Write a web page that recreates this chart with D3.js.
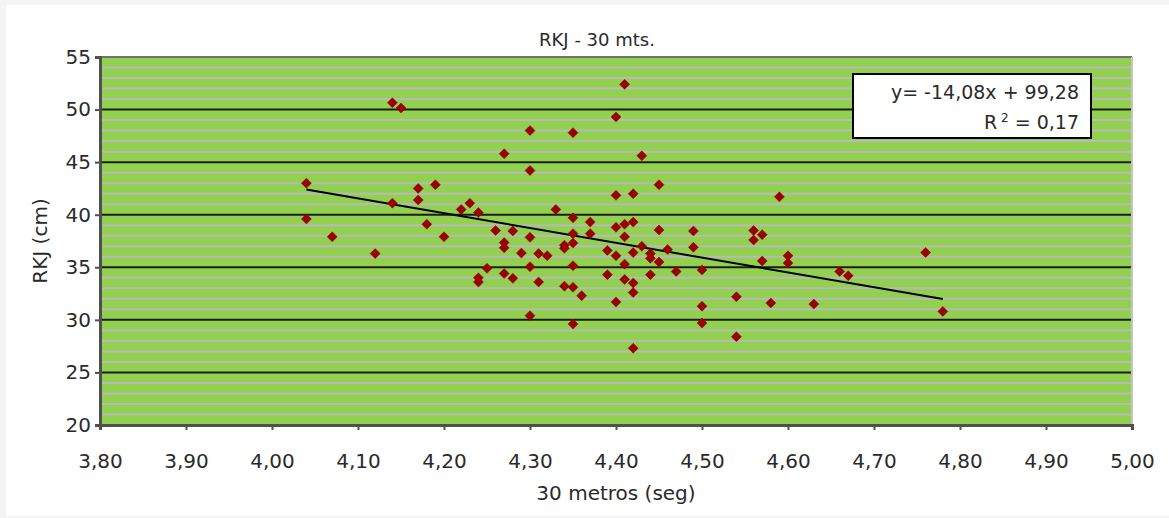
<!DOCTYPE html>
<html>
<head>
<meta charset="utf-8">
<script src="https://cdn.jsdelivr.net/npm/d3@7"></script>
<style>
    body { margin: 0; background: #f4f4f4; }
    svg { display: block; }
    text { font-family: "DejaVu Sans", Verdana, sans-serif; fill: #2a2a2a; }
</style>
</head>
<body>
<svg id="chart" width="1169" height="518"></svg>
<script>
// 30 m sprint time (s) and RKJ jump height (cm)
const timeSeg = [
    4.04, 4.04, 4.07, 4.12, 4.14, 4.14, 4.15, 4.17, 4.17, 4.18,
    4.19, 4.20, 4.22, 4.23, 4.24, 4.24, 4.24, 4.25, 4.26, 4.27,
    4.27, 4.27, 4.27, 4.28, 4.28, 4.29, 4.30, 4.30, 4.30, 4.30,
    4.30, 4.31, 4.31, 4.32, 4.33, 4.34, 4.34, 4.34, 4.35, 4.35,
    4.35, 4.35, 4.35, 4.35, 4.35, 4.36, 4.37, 4.37, 4.39, 4.39,
    4.40, 4.40, 4.40, 4.40, 4.40, 4.41, 4.41, 4.41, 4.41, 4.41,
    4.42, 4.42, 4.42, 4.42, 4.42, 4.42, 4.43, 4.43, 4.44, 4.44,
    4.44, 4.45, 4.45, 4.45, 4.46, 4.47, 4.49, 4.49, 4.50, 4.50,
    4.50, 4.54, 4.54, 4.56, 4.56, 4.57, 4.57, 4.58, 4.59, 4.60,
    4.60, 4.63, 4.66, 4.67, 4.76, 4.78
];
const rkjCm = [
    43.0, 39.6, 37.9, 36.3, 50.65, 41.1, 50.15, 42.5, 41.4, 39.1,
    42.85, 37.9, 40.5, 41.1, 40.2, 34.0, 33.6, 34.9, 38.5, 45.8,
    37.35, 36.85, 34.4, 38.45, 33.95, 36.35, 48.0, 44.2, 37.85, 35.05,
    30.4, 36.3, 33.6, 36.1, 40.5, 37.1, 36.8, 33.2, 47.8, 39.7,
    38.2, 37.3, 35.15, 33.1, 29.6, 32.3, 39.3, 38.2, 36.6, 34.3,
    49.3, 41.85, 38.8, 36.1, 31.7, 52.4, 39.1, 37.9, 35.3, 33.85,
    42.0, 39.3, 36.4, 33.5, 32.6, 27.3, 45.6, 37.0, 36.3, 35.85,
    34.3, 42.85, 38.55, 35.5, 36.7, 34.6, 38.45, 36.9, 34.75, 31.3,
    29.7, 32.2, 28.4, 38.5, 37.6, 38.1, 35.6, 31.6, 41.7, 36.1,
    35.4, 31.5, 34.6, 34.2, 36.4, 30.8
];

const xTicks = [3.8, 3.9, 4.0, 4.1, 4.2, 4.3, 4.4, 4.5, 4.6, 4.7, 4.8, 4.9, 5.0];
const yTicks = [20, 25, 30, 35, 40, 45, 50, 55];
const yMinorTicks = d3.range(21, 55).filter(v => v % 5 !== 0);

// linear trend shown in the box
const trendSlope = -14.08;
const trendIntercept = 99.28;
const trendRange = [4.04, 4.78];
const trendLabel = "y= -14,08x + 99,28";
const r2Label = "0,17";

const plot = { left: 100, right: 1132, top: 57, bottom: 425 };

const svg = d3.select("#chart");

// white panel
svg.append("rect")
    .attr("x", 6).attr("y", 5)
    .attr("width", 1169 - 6).attr("height", 511)
    .attr("fill", "#ffffff");

const x = d3.scaleLinear().domain([3.8, 5.0]).range([plot.left, plot.right]);
const y = d3.scaleLinear().domain([20, 55]).range([plot.bottom, plot.top]);

const locale = d3.formatLocale({ decimal: ",", thousands: ".", grouping: [3], currency: ["", ""] });
const fmt2 = locale.format(".2f");

// plot background
svg.append("rect")
    .attr("x", plot.left).attr("y", plot.top)
    .attr("width", plot.right - plot.left).attr("height", plot.bottom - plot.top)
    .attr("fill", "#92d050");

// minor gridlines
svg.append("g").selectAll("line")
    .data(yMinorTicks)
    .join("line")
    .attr("x1", plot.left).attr("x2", plot.right)
    .attr("y1", d => y(d)).attr("y2", d => y(d))
    .attr("stroke", "#b9b9b9")
    .attr("stroke-width", 2);

// major gridlines
svg.append("g").selectAll("line")
    .data(yTicks.filter(d => d > 20 && d < 55))
    .join("line")
    .attr("x1", plot.left).attr("x2", plot.right)
    .attr("y1", d => y(d)).attr("y2", d => y(d))
    .attr("stroke", "#1c1c1c")
    .attr("stroke-width", 2);

// frame: top and right borders
svg.append("line")
    .attr("x1", plot.left).attr("x2", plot.right)
    .attr("y1", plot.top).attr("y2", plot.top)
    .attr("stroke", "#707070").attr("stroke-width", 2);
svg.append("line")
    .attr("x1", plot.right).attr("x2", plot.right)
    .attr("y1", plot.top).attr("y2", plot.bottom)
    .attr("stroke", "#c4c4c4").attr("stroke-width", 2);

// axes
const xAxis = d3.axisBottom(x).tickValues(xTicks).tickFormat(fmt2).tickSize(5).tickPadding(24);
const yAxis = d3.axisLeft(y).tickValues(yTicks).tickSize(5).tickPadding(4);

const gx = svg.append("g")
    .attr("transform", `translate(0,${plot.bottom})`)
    .call(xAxis);
const gy = svg.append("g")
    .attr("transform", `translate(${plot.left},0)`)
    .call(yAxis);

[gx, gy].forEach(g => {
    g.select(".domain").attr("stroke", "#505050").attr("stroke-width", 3);
    g.selectAll(".tick line").attr("stroke", "#505050").attr("stroke-width", 2);
    g.selectAll(".tick text")
        .attr("font-family", "DejaVu Sans, Verdana, sans-serif")
        .attr("font-size", 20)
        .attr("fill", "#2a2a2a");
});

// trend line
svg.append("line")
    .attr("x1", x(trendRange[0]))
    .attr("y1", y(trendSlope * trendRange[0] + trendIntercept))
    .attr("x2", x(trendRange[1]))
    .attr("y2", y(trendSlope * trendRange[1] + trendIntercept))
    .attr("stroke", "#000")
    .attr("stroke-width", 2);

// points
const diamond = "M0,-5L5,0L0,5L-5,0Z";
svg.append("g").selectAll("path")
    .data(timeSeg.map((t, i) => [t, rkjCm[i]]))
    .join("path")
    .attr("d", diamond)
    .attr("transform", d => `translate(${x(d[0])},${y(d[1])})`)
    .attr("fill", "#990000")
    .attr("stroke", "#990000")
    .attr("stroke-width", 0.5);

// equation box
const box = svg.append("g");
box.append("rect")
    .attr("x", 853).attr("y", 74)
    .attr("width", 238).attr("height", 64)
    .attr("fill", "#fff")
    .attr("stroke", "#000")
    .attr("stroke-width", 2);
box.append("text")
    .attr("x", 1079).attr("y", 99)
    .attr("text-anchor", "end")
    .attr("font-size", 19)
    .text(trendLabel);
const r2 = box.append("text")
    .attr("x", 1079).attr("y", 129)
    .attr("text-anchor", "end")
    .attr("font-size", 19);
r2.append("tspan").text("R");
r2.append("tspan").attr("dy", -7).attr("font-size", 12).text(" 2");
r2.append("tspan").attr("dy", 7).text(" = " + r2Label);

// titles
svg.append("text")
    .attr("x", 597).attr("y", 46)
    .attr("text-anchor", "middle")
    .attr("font-size", 18)
    .text("RKJ - 30 mts.");

svg.append("text")
    .attr("x", 616).attr("y", 500)
    .attr("text-anchor", "middle")
    .attr("font-size", 20)
    .text("30 metros (seg)");

svg.append("text")
    .attr("transform", "translate(47,241) rotate(-90)")
    .attr("text-anchor", "middle")
    .attr("font-size", 20)
    .text("RKJ (cm)");
</script>
</body>
</html>
